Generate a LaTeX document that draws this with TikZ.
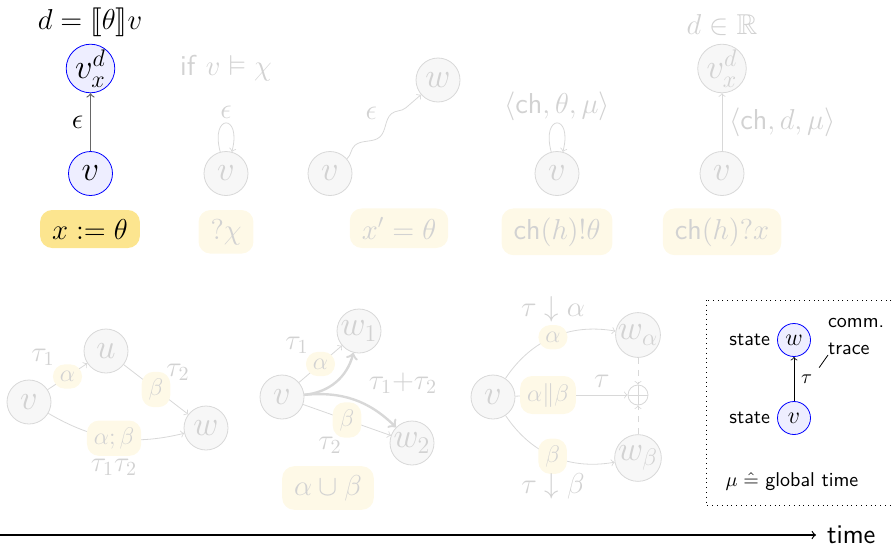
\documentclass[tikz,border=0pt]{standalone}
\usepackage{amsmath,amssymb,stmaryrd}
\usepackage{xcolor}
\usepackage{tikz}
\usetikzlibrary{decorations.pathmorphing}
\definecolor{stateblue}{RGB}{0, 0, 255}
\definecolor{statefill}{RGB}{238, 238, 255}
\definecolor{progyellow}{RGB}{252, 229, 143}
\definecolor{fadeyellow}{RGB}{254, 249, 231}
\definecolor{fadegray}{RGB}{216, 216, 216}
\definecolor{fadefill}{RGB}{247, 247, 247}
\definecolor{fadetext}{RGB}{210, 210, 210}

\begin{document}
\begin{tikzpicture}[x=5pt, y=5pt,
    statenode/.style={circle, draw=stateblue, fill=statefill, minimum size=22pt, inner sep=0pt, font=\LARGE},
    smallstate/.style={statenode, minimum size=16.5pt, font=\large},
    ghostnode/.style={circle, draw=fadegray, fill=fadefill, text=fadetext, minimum size=22pt, inner sep=0pt, font=\LARGE},
    progbox/.style={rounded corners=6pt, fill=progyellow, inner xsep=6pt, inner ysep=4.5pt, font=\Large, anchor=base},
    ghostbox/.style={progbox, fill=fadeyellow, text=fadetext},
    ghostpill/.style={rounded corners=6pt, fill=fadeyellow, text=fadetext, inner sep=3.5pt, font=\large},
    ghostlabel/.style={text=fadetext, font=\Large},
    ghostedge/.style={draw=fadegray, ->}]
    \useasboundingbox (0,0) rectangle (89.3,54.8);

    % Assignment
    \node[font=\Large] (T1) at (9.0,52.6) {$d = \llbracket\theta\rrbracket v$};
    \node[statenode] (D1) at (9.05,47.95) {$v^d_x$};
    \node[statenode] (V1) at (9.05,37.45) {$v$};
    \draw[->, black!60, semithick] (V1) -- node[left, black, font=\Large] {$\epsilon$} (D1);
    \node[progbox] (P1) at (9.0,30.9) {$x := \theta$};

    % Test
    \node[ghostlabel] (T2) at (22.6,48.0) {\textsf{if} $v \vDash \chi$};
    \node[ghostnode] (V2) at (22.6,37.45) {$v$};
    \draw[ghostedge] (V2) to[out=105, in=75, looseness=1, min distance=7mm]
        node[above, ghostlabel, inner sep=2pt] {$\epsilon$} (V2);
    \node[ghostbox] (P2) at (22.6,30.9) {$?\chi$};

    % Continuous evolution
    \node[ghostnode] (V3) at (33.0,37.45) {$v$};
    \node[ghostnode] (W3) at (43.8,46.8) {$w$};
    \draw[ghostedge, decorate, decoration={snake, amplitude=2.5pt, segment length=24pt, post length=3pt}]
        (V3) -- node[midway, above left, ghostlabel] {$\epsilon$} (W3);
    \node[ghostbox] (P3) at (39.9,30.9) {$x' = \theta$};

    % Send
    \node[ghostnode] (V4) at (55.7,37.45) {$v$};
    \draw[ghostedge] (V4) to[out=105, in=75, looseness=1, min distance=7mm]
        node[above, ghostlabel, inner sep=1pt] {$\langle\textsf{ch},\theta,\mu\rangle$} (V4);
    \node[ghostbox] (P4) at (55.7,30.9) {$\textsf{ch}(h)!\theta$};

    % Receive
    \node[ghostlabel] (T5) at (72.2,52.3) {$d \in \mathbb{R}$};
    \node[ghostnode] (D5) at (72.2,47.95) {$v^d_x$};
    \node[ghostnode] (V5) at (72.2,37.45) {$v$};
    \draw[ghostedge] (V5) -- node[right, ghostlabel] {$\langle\textsf{ch},d,\mu\rangle$} (D5);
    \node[ghostbox] (P5) at (72.2,30.9) {$\textsf{ch}(h)?x$};

    % Sequential composition
    \node[ghostnode] (V6) at (2.9,14.6) {$v$};
    \node[ghostnode] (U6) at (10.6,19.7) {$u$};
    \node[ghostnode] (W6) at (20.6,12.0) {$w$};
    \draw[ghostedge] (V6) -- node[ghostpill] (A6) {$\alpha$} (U6);
    \draw[ghostedge] (U6) -- node[ghostpill] (B6) {$\beta$} (W6);
    \draw[ghostedge] (V6) to[bend right=22] node[ghostpill] (S6) {$\alpha;\beta$} (W6);
    \node[ghostlabel] (L61) at (4.3,19.1) {$\tau_1$};
    \node[ghostlabel] (L62) at (17.8,17.6) {$\tau_2$};
    \node[ghostlabel] (L63) at (11.4,8.1) {$\tau_1\tau_2$};

    % Choice
    \node[ghostnode] (V7) at (28.2,15.1) {$v$};
    \node[ghostnode] (W71) at (35.9,21.7) {$w_1$};
    \node[ghostnode] (W72) at (41.2,10.5) {$w_2$};
    \draw[ghostedge] (V7) -- node[ghostpill] (A7) {$\alpha$} (W71);
    \draw[ghostedge] (V7) -- node[ghostpill] (B7) {$\beta$} (W72);
    \draw[ghostedge, line width=1.2pt] (V7) to[bend right=35] (W71);
    \draw[ghostedge, line width=1.2pt] (V7) to[bend left=25] (W72);
    \node[ghostlabel] (L71) at (29.7,20.3) {$\tau_1$};
    \node[ghostlabel] (L72) at (33.0,10.3) {$\tau_2$};
    \node[ghostlabel] (L73) at (40.3,16.5) {$\tau_1{+}\tau_2$};
    \node[ghostbox, anchor=center] (P7) at (32.8,6.0) {$\alpha \cup \beta$};

    % Parallel composition
    \node[ghostnode] (V8) at (49.3,15.1) {$v$};
    \node[ghostnode] (WA) at (63.8,21.3) {$w_\alpha$};
    \node[ghostnode] (WB) at (63.8,9.0) {$w_\beta$};
    \node[circle, draw=fadegray, minimum size=10pt, inner sep=0pt] (PL) at (63.8,15.3) {};
    \draw[fadegray] (PL.north) -- (PL.south) (PL.west) -- (PL.east);
    \draw[ghostedge] (V8) to[bend left=33] node[ghostpill] (A8) {$\alpha$} (WA);
    \draw[ghostedge] (V8) to[bend right=33] node[ghostpill] (B8) {$\beta$} (WB);
    \node[ghostpill] (AB8) at (54.8,15.3) {$\alpha \| \beta$};
    \draw[fadegray] (V8) -- (AB8);
    \draw[ghostedge] (AB8) -- node[above, ghostlabel] {$\tau$} (PL);
    \draw[ghostedge, dashed] (WA) -- (PL);
    \draw[ghostedge, dashed] (WB) -- (PL);
    \node[ghostlabel] (L81) at (55.3,23.9) {$\tau \downarrow \alpha$};
    \node[ghostlabel] (L82) at (55.3,6.2) {$\tau \downarrow \beta$};

    % Legend
    \draw[dotted] (70.6,24.8) rectangle (89.6,4.3);
    \node[smallstate] (WL) at (79.4,20.8) {$w$};
    \node[smallstate] (VL) at (79.4,13.0) {$v$};
    \node[anchor=east, font=\sffamily] (SW) at (WL.west) {state};
    \node[anchor=east, font=\sffamily] (SV) at (VL.west) {state};
    \draw[->] (VL) -- node[right] (TL) {$\tau$} (WL);
    \node[anchor=west, align=left, font=\sffamily] (CT) at (82.1,21.2) {comm.\\[1.5pt]trace};
    \coordinate (CP) at (82.8,19.3);
    \draw (TL.north east) -- (CP);
    \node (ML) at (79.2,6.6) {$\mu \mathrel{\hat{=}}$ \textsf{global time}};

    % Time axis
    \coordinate (T0) at (0,1.3);
    \node[anchor=west, font=\sffamily\fontsize{13.5}{16}\selectfont] (TIME) at (82.0,1.3) {time};
    \draw[->, semithick, shorten >=2pt] (T0) -- (TIME);
\end{tikzpicture}
\end{document}
